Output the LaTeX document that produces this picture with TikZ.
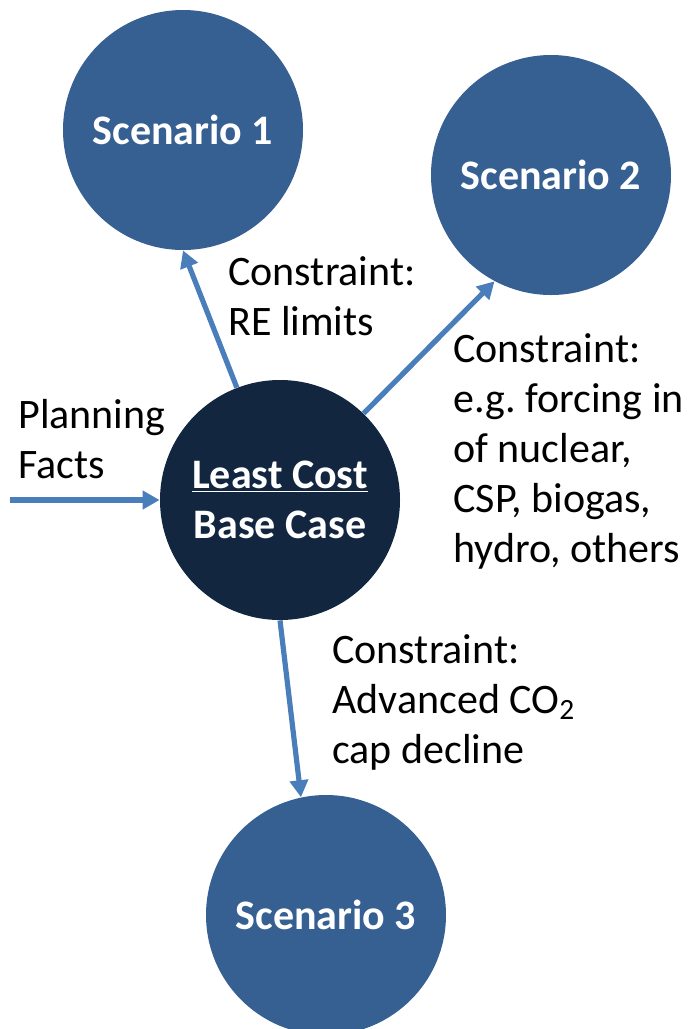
\documentclass[tikz,border=0pt]{standalone}
\usepackage{fontspec}
\setmainfont{Carlito}
\usetikzlibrary{arrows.meta}
\definecolor{scenfill}{RGB}{55,96,146}
\definecolor{basefill}{RGB}{18,38,64}
\definecolor{linkblue}{RGB}{74,126,187}
\frenchspacing

\begin{document}
\begin{tikzpicture}[x=0.5pt, y=-0.5pt, ->, >={Triangle[length=8.5pt, width=9pt]},
		every edge/.style={draw=linkblue, line width=2.6pt},
		bubble/.style={circle, minimum size=120pt, inner sep=0pt, text=white,
			font=\fontsize{21}{25}\selectfont\bfseries, align=center},
		remark/.style={anchor=west, align=left, inner sep=0pt,
			font=\fontsize{21}{25}\selectfont}]
		\useasboundingbox (0,0) rectangle (690,1029);
		\node[bubble, fill=basefill]	(A)	at (280,500)	{\underline{Least Cost}\\Base Case};
		\node[bubble, fill=scenfill]	(B)	at (183,130)	{Scenario 1};
		\node[bubble, fill=scenfill]	(C)	at (551,175)	{Scenario 2};
		\node[bubble, fill=scenfill]	(D)	at (326,915)	{Scenario 3};
		\coordinate	(P)	at (10,500);
		% constraint labels
		\node[remark]	(TB)	at (228,296)	{Constraint:\\RE limits};
		\node[remark]	(TC)	at (453,451)	{Constraint:\\e.g. forcing in\\of nuclear,\\CSP, biogas,\\hydro, others};
		\node[remark]	(TP)	at (18,439)	{Planning\\Facts};
		\node[remark]	(TD)	at (332,702)	{Constraint:\\Advanced CO\textsubscript{2}\\cap decline};
		\path	(A.111)	edge	(B.270)
				(A.46)	edge	(C.242)
				(A.270)	edge	(D.102)
				(P)	edge	(A.west);
	\end{tikzpicture}
\end{document}
